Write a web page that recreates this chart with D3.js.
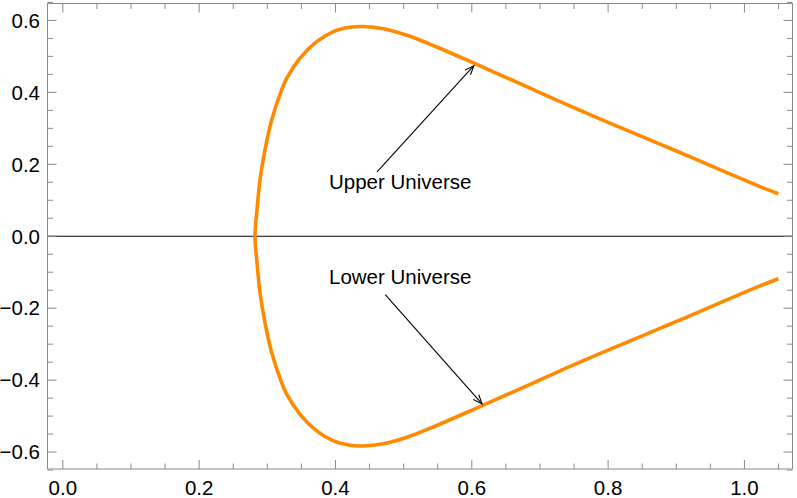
<!DOCTYPE html>
<html>
<head>
<meta charset="utf-8">
<script src="https://cdn.jsdelivr.net/npm/d3@7"></script>
<style>
  body { margin: 0; background: #fff; }
  svg { display: block; font-family: "Liberation Sans", Arial, sans-serif; }
</style>
</head>
<body>
<svg id="chart" width="797" height="498"></svg>
<script>
// upper branch (from the nose out to the right end)
const upperX = [0.2819, 0.2849, 0.2893, 0.2966, 0.3064, 0.321, 0.3284, 0.348, 0.3724, 0.397, 0.4213, 0.4408, 0.4702, 0.5093, 0.5485, 0.5925, 0.6315, 0.6805, 0.7294, 0.7783, 0.8272, 0.8761, 0.925, 0.974, 1.0228, 1.0497];
const upperY = [0.000, 0.074, 0.157, 0.240, 0.323, 0.407, 0.439, 0.495, 0.541, 0.569, 0.581, 0.583, 0.577, 0.556, 0.526, 0.490, 0.457, 0.416, 0.374, 0.334, 0.295, 0.256, 0.217, 0.177, 0.138, 0.118];
// lower branch
const lowerX = [0.2819, 0.2849, 0.2893, 0.2966, 0.3064, 0.321, 0.3284, 0.348, 0.3724, 0.397, 0.4213, 0.4408, 0.4702, 0.5093, 0.5485, 0.5925, 0.6315, 0.6805, 0.7294, 0.7783, 0.8272, 0.8761, 0.925, 0.974, 1.0228, 1.0497];
const lowerY = [0.000, -0.074, -0.157, -0.240, -0.323, -0.407, -0.439, -0.495, -0.541, -0.569, -0.581, -0.583, -0.577, -0.556, -0.526, -0.490, -0.457, -0.416, -0.374, -0.334, -0.295, -0.256, -0.217, -0.177, -0.138, -0.118];

const xTicks = [0, 0.2, 0.4, 0.6, 0.8, 1.0];
const yTicks = [-0.6, -0.4, -0.2, 0, 0.2, 0.4, 0.6];
const xMinor = d3.range(0, 1.0701, 0.05);
const yMinor = d3.range(-0.65, 0.6501, 0.05);

const labels = [
  { text: "Upper Universe", x: 0.495, y: 0.132, from: [0.461, 0.179], to: [0.603, 0.474] },
  { text: "Lower Universe", x: 0.495, y: -0.132, from: [0.473, -0.162], to: [0.615, -0.466] }
];

const svg = d3.select("#chart");
const mLeft = 47.5, mRight = 792.5, mTop = 3.5, mBottom = 469;

const x = d3.scaleLinear().domain([-0.0225, 1.0705]).range([mLeft, mRight]);
const y = d3.scaleLinear().domain([-0.647, 0.647]).range([mBottom, mTop]);

const grey = "#8a8a8a";
const fmt = d => (d < 0 ? "\u2212" : "") + Math.abs(d).toFixed(1);

// zero line
svg.append("line")
  .attr("x1", mLeft).attr("x2", mRight)
  .attr("y1", y(0)).attr("y2", y(0))
  .attr("stroke", "#000").attr("stroke-width", 1.2);

// curve
const pts = upperX.map((d, i) => [d, upperY[i]]).reverse()
  .concat(lowerX.map((d, i) => [d, lowerY[i]]).slice(1));

svg.append("path")
  .datum(pts)
  .attr("fill", "none")
  .attr("stroke", "#ff8a00")
  .attr("stroke-width", 3.6)
  .attr("stroke-linejoin", "round")
  .attr("d", d3.line().x(d => x(d[0])).y(d => y(d[1])).curve(d3.curveCatmullRom.alpha(0.5)));

// arrows + labels
svg.append("defs").append("marker")
  .attr("id", "head")
  .attr("viewBox", "-10 -5 12 10")
  .attr("refX", 0).attr("refY", 0)
  .attr("markerWidth", 12).attr("markerHeight", 10)
  .attr("markerUnits", "userSpaceOnUse")
  .attr("orient", "auto")
  .append("path")
  .attr("d", "M-9,-3.6L0,0L-9,3.6")
  .attr("fill", "none")
  .attr("stroke", "#000")
  .attr("stroke-width", 1.1);

labels.forEach(l => {
  svg.append("line")
    .attr("x1", x(l.from[0])).attr("y1", y(l.from[1]))
    .attr("x2", x(l.to[0])).attr("y2", y(l.to[1]))
    .attr("stroke", "#000").attr("stroke-width", 1.1)
    .attr("marker-end", "url(#head)");
  svg.append("text")
    .attr("x", x(l.x)).attr("y", y(l.y))
    .attr("text-anchor", "middle")
    .attr("font-size", 20.5)
    .text(l.text);
});

// frame
svg.append("rect")
  .attr("x", mLeft).attr("y", mTop)
  .attr("width", mRight - mLeft).attr("height", mBottom - mTop)
  .attr("fill", "none").attr("stroke", grey).attr("stroke-width", 1);

// ticks (inward, on all four sides)
const isMajor = (v, list) => list.some(t => Math.abs(t - v) < 1e-6);
xMinor.forEach(v => {
  const len = isMajor(v, xTicks) ? 9 : 5.5;
  svg.append("line").attr("x1", x(v)).attr("x2", x(v)).attr("y1", mBottom).attr("y2", mBottom - len).attr("stroke", grey);
  svg.append("line").attr("x1", x(v)).attr("x2", x(v)).attr("y1", mTop).attr("y2", mTop + len).attr("stroke", grey);
});
yMinor.forEach(v => {
  const len = isMajor(v, yTicks) ? 9 : 5.5;
  svg.append("line").attr("y1", y(v)).attr("y2", y(v)).attr("x1", mLeft).attr("x2", mLeft + len).attr("stroke", grey);
  svg.append("line").attr("y1", y(v)).attr("y2", y(v)).attr("x1", mRight).attr("x2", mRight - len).attr("stroke", grey);
});

// tick labels
svg.selectAll(".xl").data(xTicks).enter().append("text")
  .attr("x", d => x(d)).attr("y", 494.5)
  .attr("text-anchor", "middle").attr("font-size", 20.5)
  .text(fmt);

svg.selectAll(".yl").data(yTicks).enter().append("text")
  .attr("x", 40).attr("y", d => y(d) + 7.3)
  .attr("text-anchor", "end").attr("font-size", 20.5)
  .text(fmt);
</script>
</body>
</html>
